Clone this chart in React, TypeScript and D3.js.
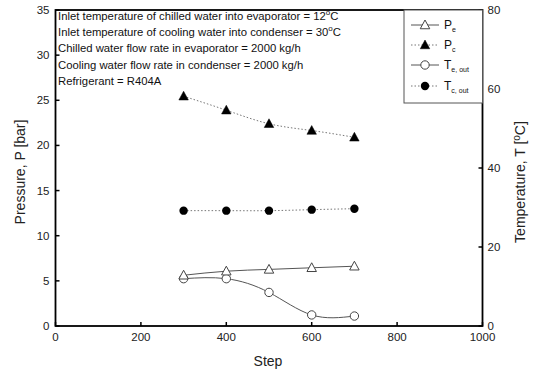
import React from "react";
import * as d3 from "d3";

const steps = [300, 400, 500, 600, 700];
const pe = [5.62, 6.07, 6.27, 6.45, 6.62];
const pc = [25.45, 23.9, 22.4, 21.65, 20.9];
const teOut = [11.98, 11.98, 8.5, 2.8, 2.52];
const tcOut = [29.2, 29.2, 29.2, 29.45, 29.7];

const xTicks = [0, 200, 400, 600, 800, 1000];
const pTicks = [0, 5, 10, 15, 20, 25, 30, 35];
const tTicks = [0, 20, 40, 60, 80];

const notes = [
  ["Inlet temperature of chilled water into evaporator = 12", "C"],
  ["Inlet temperature of cooling water into condenser = 30", "C"],
  ["Chilled water flow rate in evaporator = 2000 kg/h", ""],
  ["Cooling water flow rate in condenser = 2000 kg/h", ""],
  ["Refrigerant = R404A", ""],
];

const W = 536, H = 376;
const L = 55.5, R = 482.5, T = 10, B = 326;

export default function App() {
  const x = d3.scaleLinear().domain([0, 1000]).range([L, R]);
  const yP = d3.scaleLinear().domain([0, 35]).range([B, T]);
  const yT = d3.scaleLinear().domain([0, 80]).range([B, T]);

  const lineP = d3.line<number>().x((_, i) => x(steps[i])).y((d) => yP(d)).curve(d3.curveNatural);
  const lineT = d3.line<number>().x((_, i) => x(steps[i])).y((d) => yT(d)).curve(d3.curveNatural);

  const tri = (cx: number, cy: number, r = 5) =>
    `M${cx},${cy - r}L${cx + r * 0.95},${cy + r * 0.75}L${cx - r * 0.95},${cy + r * 0.75}Z`;

  const font = "'Liberation Sans', Arial, sans-serif";
  const lineColor = "#555";

  const legend = [
    { sym: "otri", dash: false, main: "P", sub: "e" },
    { sym: "ftri", dash: true, main: "P", sub: "c" },
    { sym: "ocirc", dash: false, main: "T", sub: "e, out" },
    { sym: "fcirc", dash: true, main: "T", sub: "c, out" },
  ];
  const legY = [25, 45, 65, 86];
  const lx0 = 411, lx1 = 439, lm = 425, ltx = 444;

  const marker = (sym: string, cx: number, cy: number, key: string | number) => {
    if (sym === "otri") return <path key={key} d={tri(cx, cy)} fill="white" stroke="#444" strokeWidth={1} />;
    if (sym === "ftri") return <path key={key} d={tri(cx, cy)} fill="black" stroke="black" strokeWidth={0.5} />;
    if (sym === "ocirc") return <circle key={key} cx={cx} cy={cy} r={4.2} fill="white" stroke="#444" strokeWidth={1} />;
    return <circle key={key} cx={cx} cy={cy} r={4.2} fill="black" />;
  };

  return (
    <svg width={W} height={H} style={{ position: "absolute", left: 0, top: 0 }} fontFamily={font}>
      <rect x={0} y={0} width={W} height={H} fill="white" />
      <path d={lineP(pc) || ""} fill="none" stroke="#777" strokeWidth={1} strokeDasharray="1.5,2" />
      <path d={lineT(tcOut) || ""} fill="none" stroke="#777" strokeWidth={1} strokeDasharray="1.5,2" />
      <path d={lineP(pe) || ""} fill="none" stroke={lineColor} strokeWidth={1} />
      <path d={lineT(teOut) || ""} fill="none" stroke={lineColor} strokeWidth={1} />
      {pc.map((d, i) => marker("ftri", x(steps[i]), yP(d), "pc" + i))}
      {tcOut.map((d, i) => marker("fcirc", x(steps[i]), yT(d), "tc" + i))}
      {teOut.map((d, i) => marker("ocirc", x(steps[i]), yT(d), "te" + i))}
      {pe.map((d, i) => marker("otri", x(steps[i]), yP(d), "pe" + i))}

      <rect x={L} y={T} width={R - L} height={B - T} fill="none" stroke="black" strokeWidth={1.8} />

      {xTicks.map((t) => (
        <g key={"x" + t}>
          <line x1={x(t)} x2={x(t)} y1={B} y2={B - 4} stroke="black" strokeWidth={1.5} />
          <text x={x(t)} y={B + 15} textAnchor="middle" fontSize={11.5} fill="#222">{t}</text>
        </g>
      ))}
      {pTicks.map((t) => (
        <g key={"p" + t}>
          <line x1={L} x2={L + 4} y1={yP(t)} y2={yP(t)} stroke="black" strokeWidth={1.5} />
          <text x={L - 6} y={yP(t) + 4} textAnchor="end" fontSize={11.5} fill="#222">{t}</text>
        </g>
      ))}
      {tTicks.map((t) => (
        <g key={"t" + t}>
          <line x1={R} x2={R - 4} y1={yT(t)} y2={yT(t)} stroke="black" strokeWidth={1.5} />
          <text x={R + 5} y={yT(t) + 4} textAnchor="start" fontSize={11.5} fill="#222">{t}</text>
        </g>
      ))}

      <text x={268} y={366} textAnchor="middle" fontSize={14} fill="#222">Step</text>
      <text transform={`translate(25,172) rotate(-90)`} textAnchor="middle" fontSize={14} fill="#222">Pressure, P [bar]</text>
      <text transform={`translate(525,182) rotate(-90)`} textAnchor="middle" fontSize={14} fill="#222">
        Temperature, T [<tspan dy={-5} fontSize={10}>o</tspan><tspan dy={5}>C]</tspan>
      </text>

      {notes.map((n, i) => (
        <text key={"n" + i} x={58} y={20 + i * 16.2} fontSize={11.3} fill="#111">
          {n[0]}
          {n[1] ? (
            <>
              <tspan dy={-5} fontSize={8}>o</tspan>
              <tspan dy={5}>{n[1]}</tspan>
            </>
          ) : null}
        </text>
      ))}

      <rect x={404} y={T} width={R - 404} height={103 - T} fill="white" stroke="#555" strokeWidth={1} />
      {legend.map((e, i) => (
        <g key={"l" + i}>
          <line x1={lx0} x2={lx1} y1={legY[i]} y2={legY[i]} stroke={e.dash ? "#777" : lineColor} strokeWidth={1} strokeDasharray={e.dash ? "1.5,2" : undefined} />
          {marker(e.sym, lm, legY[i], "lm" + i)}
          <text x={ltx} y={legY[i] + 4} fontSize={12} fill="#111">
            {e.main}
            <tspan dy={3} fontSize={7}>{e.sub}</tspan>
          </text>
        </g>
      ))}
    </svg>
  );
}
